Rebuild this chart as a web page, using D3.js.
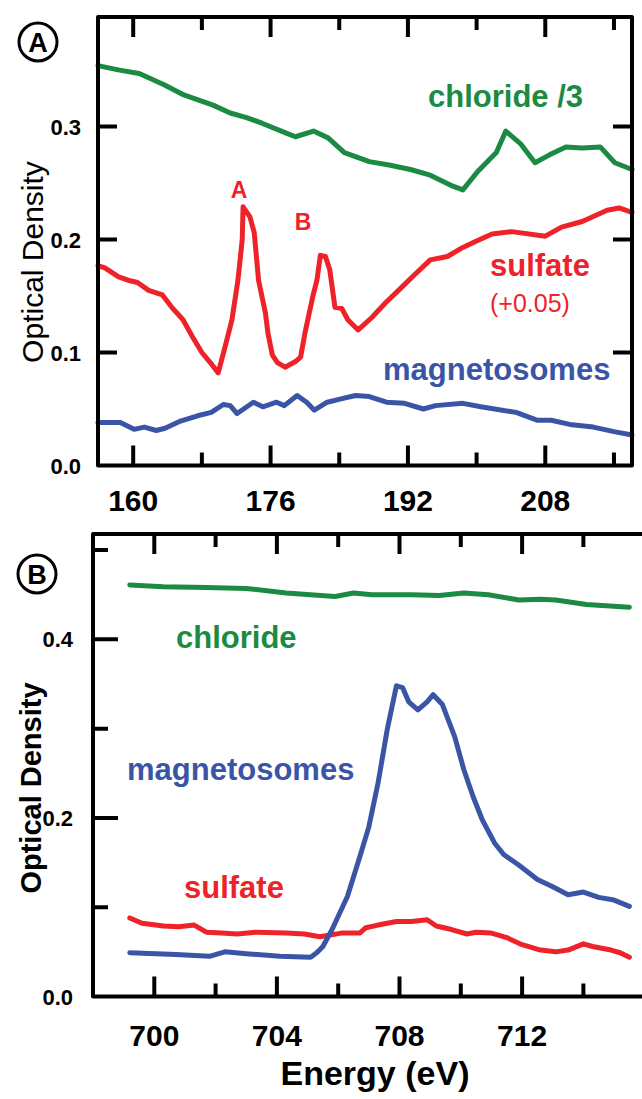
<!DOCTYPE html>
<html><head><meta charset="utf-8">
<script src="https://cdn.jsdelivr.net/npm/d3@7"></script>
<style>
html,body{margin:0;padding:0;background:#fff;}
svg{display:block;font-family:"Liberation Sans",Arial,Helvetica,sans-serif;}
</style></head>
<body>
<svg id="chart" width="642" height="1099"></svg>
<script>
// ---------- Panel A data (eV vs optical density) ----------
const aChlorideE = [155.9,158.4,160.7,163.6,165.9,169.3,171.3,173.2,175.0,177.9,178.9,181.0,182.7,184.6,187.5,189.8,192.3,194.6,197.0,198.4,200.1,202.3,203.4,205.1,206.8,208.5,210.4,212.3,214.4,216.1,218.1];
const aChlorideOD = [0.354,0.350,0.347,0.337,0.328,0.319,0.312,0.308,0.303,0.294,0.291,0.296,0.290,0.277,0.269,0.266,0.262,0.257,0.248,0.244,0.260,0.277,0.296,0.285,0.268,0.275,0.282,0.281,0.282,0.268,0.262];

const aSulfateE = [155.9,156.7,158.3,159.4,160.5,161.8,163.4,164.5,165.8,166.9,168.0,169.2,169.9,170.7,171.5,172.2,172.7,172.8,173.6,174.1,174.6,175.4,175.7,176.2,176.8,177.7,178.9,179.5,180.0,180.9,181.4,181.8,182.4,182.9,183.5,184.3,185.0,186.2,187.8,189.4,190.9,192.8,194.6,196.6,198.4,199.8,201.8,204.1,208.0,209.9,212.3,215.2,216.6,218.1];
const aSulfateOD = [0.177,0.175,0.167,0.164,0.162,0.155,0.151,0.140,0.129,0.114,0.100,0.089,0.082,0.105,0.129,0.164,0.200,0.229,0.220,0.206,0.164,0.135,0.117,0.098,0.091,0.087,0.092,0.096,0.117,0.149,0.164,0.186,0.185,0.173,0.140,0.139,0.129,0.120,0.131,0.144,0.155,0.169,0.182,0.185,0.193,0.198,0.205,0.207,0.203,0.211,0.216,0.226,0.228,0.224];

const aMagE = [155.9,158.5,160.1,161.3,162.7,163.7,165.4,167.5,169.1,170.5,171.3,172.1,174.0,175.1,176.7,177.6,179.1,180.2,181.1,182.6,184.2,185.9,187.5,189.5,191.6,193.8,195.2,198.4,200.5,204.6,207.1,208.7,211.1,213.6,216.0,218.1];
const aMagOD = [0.038,0.038,0.032,0.034,0.031,0.033,0.039,0.044,0.047,0.054,0.053,0.046,0.056,0.052,0.056,0.053,0.062,0.056,0.049,0.056,0.059,0.062,0.061,0.056,0.055,0.050,0.053,0.055,0.052,0.047,0.040,0.040,0.036,0.034,0.030,0.027];

const aXMajor = [160,176,192,208];
const aXMinor = [168,184,200,216];
const aYTicks = [0.0,0.1,0.2,0.3];

// ---------- Panel B data ----------
const bChlorideE = [699.2,700.3,701.7,703.0,704.3,705.9,706.5,707.1,708.4,709.3,710.1,710.9,711.9,712.6,713.1,714.1,715.5];
const bChlorideOD = [0.461,0.459,0.458,0.457,0.452,0.448,0.452,0.450,0.450,0.449,0.452,0.450,0.444,0.445,0.444,0.439,0.436];

const bMagE = [699.2,700.7,701.8,702.3,703.0,704.1,705.1,705.3,705.5,705.8,706.3,706.7,707.0,707.3,707.6,707.9,708.1,708.3,708.6,708.9,709.1,709.4,709.8,710.1,710.4,710.7,711.1,711.4,711.9,712.5,713.0,713.5,714.0,714.5,715.0,715.5];
const bMagOD = [0.049,0.047,0.045,0.050,0.048,0.045,0.044,0.049,0.056,0.075,0.112,0.156,0.190,0.239,0.299,0.348,0.346,0.330,0.321,0.330,0.338,0.327,0.291,0.254,0.224,0.198,0.172,0.159,0.147,0.131,0.123,0.114,0.117,0.111,0.108,0.101];

const bSulfateE = [699.2,699.6,700.3,700.8,701.3,701.7,702.2,702.7,703.3,704.3,704.9,705.4,706.1,706.7,706.9,707.3,707.9,708.4,708.9,709.2,709.7,710.2,710.5,711.0,711.5,712.0,712.6,713.1,713.5,714.0,714.3,714.9,715.2,715.5];
const bSulfateOD = [0.088,0.082,0.079,0.078,0.080,0.072,0.071,0.070,0.072,0.071,0.070,0.067,0.071,0.071,0.077,0.080,0.084,0.084,0.086,0.079,0.075,0.070,0.072,0.071,0.066,0.058,0.052,0.050,0.052,0.059,0.056,0.052,0.049,0.044];

const bXMajor = [700,704,708,712];
const bXMinor = [702,706,710,714];
const bYMajor = [0.0,0.2,0.4];
const bYMinor = [0.1,0.3,0.5];

// ---------- styling ----------
const GREEN = "#1b8a42", RED = "#ee2229", BLUE = "#3a55a6";
const svg = d3.select("#chart");
const zip = (xs, ys) => xs.map((v, i) => [v, ys[i]]);

// all inward ticks of a panel collected into one path
function tickPath(x, y, spec) {
  const [x0, x1] = x.range(), [y0, y1] = y.range();
  const p = d3.path();
  spec.xMajor.forEach(v => { p.moveTo(x(v), y0); p.lineTo(x(v), y0 - spec.xl); p.moveTo(x(v), y1); p.lineTo(x(v), y1 + spec.xl); });
  spec.xMinor.forEach(v => { p.moveTo(x(v), y0); p.lineTo(x(v), y0 - spec.xs); p.moveTo(x(v), y1); p.lineTo(x(v), y1 + spec.xs); });
  spec.yMajor.forEach(v => { p.moveTo(x0, y(v)); p.lineTo(x0 + spec.yl, y(v)); if (spec.right) { p.moveTo(x1, y(v)); p.lineTo(x1 - spec.yl, y(v)); } });
  spec.yMinor.forEach(v => { p.moveTo(x0, y(v)); p.lineTo(x0 + spec.ys, y(v)); });
  return p.toString();
}
function frame(g, x, y, showRight) {
  const [x0, x1] = x.range(), [y0, y1] = y.range();
  g.append("path")
    .attr("d", showRight
      ? `M${x0},${y1}H${x1}V${y0}H${x0}Z`
      : `M${x1},${y1}H${x0}V${y0}H${x1}`)
    .attr("fill", "none").attr("stroke", "#000").attr("stroke-width", 4)
    .attr("stroke-linejoin", "round");
}
function curve(g, x, y, pts, color) {
  g.append("path").datum(pts)
    .attr("d", d3.line().x(d => x(d[0])).y(d => y(d[1])).curve(d3.curveLinear))
    .attr("fill", "none").attr("stroke", color).attr("stroke-width", 5)
    .attr("stroke-linejoin", "round").attr("stroke-linecap", "round");
}
function txt(g, s, xx, yy, opts) {
  const t = g.append("text").attr("x", xx).attr("y", yy).text(s)
    .attr("font-size", opts.size).attr("font-weight", opts.weight || "bold")
    .attr("fill", opts.color || "#000").attr("text-anchor", opts.anchor || "start");
  if (opts.rotate) t.attr("transform", `rotate(-90,${xx},${yy})`);
  return t;
}
function circleLabel(g, s, cx, cy) {
  g.append("circle").attr("cx", cx).attr("cy", cy).attr("r", 19)
    .attr("fill", "none").attr("stroke", "#000").attr("stroke-width", 3);
  txt(g, s, cx, cy + 9.5, {size: 27, anchor: "middle"});
}

// ---------- Panel A ----------
const xA = d3.scaleLinear().domain([155.9, 218.1]).range([98, 632]);
const yA = d3.scaleLinear().domain([0, 0.397]).range([465.5, 17]);
const gA = svg.append("g");
curve(gA, xA, yA, zip(aMagE, aMagOD), BLUE);
curve(gA, xA, yA, zip(aSulfateE, aSulfateOD), RED);
curve(gA, xA, yA, zip(aChlorideE, aChlorideOD), GREEN);
frame(gA, xA, yA, true);
gA.append("path")
  .attr("d", tickPath(xA, yA, {xMajor: aXMajor, xMinor: aXMinor, yMajor: aYTicks.slice(1), yMinor: [], xl: 20, xs: 13, yl: 19, ys: 0, right: true}))
  .attr("fill", "none").attr("stroke", "#000").attr("stroke-width", 4);
aXMajor.forEach(v => txt(gA, String(v), xA(v), 511, {size: 30, anchor: "middle"}));
aYTicks.forEach(v => txt(gA, v.toFixed(1), 81, yA(v) + 8, {size: 22, anchor: "end"}));
txt(gA, "Optical Density", 43, 262, {size: 30, weight: "normal", anchor: "middle", rotate: true});
circleLabel(gA, "A", 38, 42);
txt(gA, "chloride /3", 428, 107, {size: 31, color: GREEN});
txt(gA, "sulfate", 490, 276, {size: 31, color: RED});
txt(gA, "(+0.05)", 490, 312, {size: 25, weight: "normal", color: RED});
txt(gA, "magnetosomes", 383, 380, {size: 31, color: BLUE});
txt(gA, "A", 239, 198, {size: 23, color: RED, anchor: "middle"});
txt(gA, "B", 303, 230, {size: 23, color: RED, anchor: "middle"});

// ---------- Panel B ----------
const xB = d3.scaleLinear().domain([698, 716]).range([93, 644.7]);
const yB = d3.scaleLinear().domain([0, 0.518]).range([996.5, 534]);
const gB = svg.append("g");
curve(gB, xB, yB, zip(bChlorideE, bChlorideOD), GREEN);
curve(gB, xB, yB, zip(bSulfateE, bSulfateOD), RED);
curve(gB, xB, yB, zip(bMagE, bMagOD), BLUE);
frame(gB, xB, yB, false);
gB.append("path")
  .attr("d", tickPath(xB, yB, {xMajor: bXMajor, xMinor: bXMinor, yMajor: bYMajor.slice(1), yMinor: bYMinor, xl: 20, xs: 13, yl: 25, ys: 15, right: false}))
  .attr("fill", "none").attr("stroke", "#000").attr("stroke-width", 4);
bXMajor.forEach(v => txt(gB, String(v), xB(v), 1046, {size: 30, anchor: "middle"}));
bYMajor.forEach(v => txt(gB, v.toFixed(1), 73, yB(v) + 8, {size: 22, anchor: "end"}));
txt(gB, "Optical Density", 41, 788, {size: 29, anchor: "middle", rotate: true});
circleLabel(gB, "B", 37, 574);
txt(gB, "chloride", 176, 648, {size: 31, color: GREEN});
txt(gB, "magnetosomes", 127, 780, {size: 31, color: BLUE});
txt(gB, "sulfate", 184, 898, {size: 31, color: RED});
txt(gB, "Energy (eV)", 375, 1085, {size: 34, anchor: "middle"});
</script>
</body></html>
